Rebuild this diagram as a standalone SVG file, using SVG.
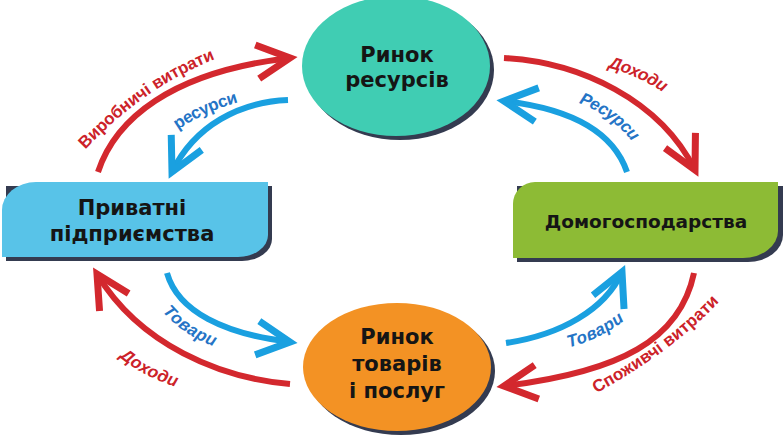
<svg xmlns="http://www.w3.org/2000/svg" xmlns:xlink="http://www.w3.org/1999/xlink" width="784" height="436" viewBox="0 0 784 436">
<style>
.shadow{fill:#343b50}
.ntext{font-family:"DejaVu Sans","Liberation Sans",sans-serif;font-weight:bold;font-size:21px;fill:#151515;text-anchor:middle}
.red{fill:none;stroke:#d3282e;stroke-width:6;stroke-linecap:butt}
.blue{fill:none;stroke:#1aa0e0;stroke-width:6;stroke-linecap:butt}
.lbl{font-family:"Liberation Sans","DejaVu Sans",sans-serif;font-weight:bold;font-style:italic;font-size:17px;dominant-baseline:central}
.up{font-style:normal}
.lred{fill:#cc2229}
.lblue{fill:#2474c6}
</style>
<defs>
<marker id="ahR" markerUnits="userSpaceOnUse" viewBox="-40 -30 50 60" markerWidth="50" markerHeight="60" refX="0" refY="0" orient="auto" overflow="visible">
<path d="M -33,-17 L 0,0 L -33,17" fill="none" stroke="#d3282e" stroke-width="7"/>
</marker>
<marker id="ahB" markerUnits="userSpaceOnUse" viewBox="-40 -30 50 60" markerWidth="50" markerHeight="60" refX="0" refY="0" orient="auto" overflow="visible">
<path d="M -33,-17 L 0,0 L -33,17" fill="none" stroke="#1aa0e0" stroke-width="7"/>
</marker>
<path id="tpA" d="M 66,162 Q 140,76 234,46"/>
<path id="tpB" d="M 170,128 Q 200,106 242,95"/>
<path id="tpC" d="M 602,60 Q 640,68 673,92"/>
<path id="tpD" d="M 576,96 Q 615,108 640,142"/>
<path id="tpE" d="M 165,305 Q 185,330 219,342"/>
<path id="tpF" d="M 118,348 Q 145,372 184,383"/>
<path id="tpG" d="M 562,343 Q 598,335 625,312"/>
<path id="tpH" d="M 584,393 Q 670,348 722,290"/>
</defs>
<rect width="784" height="436" fill="#ffffff"/>

<g id="connectors">
<path class="red" d="M 98,172 C 115,120 170,72 290,58" marker-end="url(#ahR)"/>
<path class="blue" d="M 288,100 C 240,102 195,125 172,172" marker-end="url(#ahB)"/>
<path class="red" d="M 504,58 C 580,62 660,100 695,170" marker-end="url(#ahR)"/>
<path class="blue" d="M 627,172 C 612,128 565,108 504,101" marker-end="url(#ahB)"/>
<path class="blue" d="M 167,273 C 178,312 225,334 290,342" marker-end="url(#ahB)"/>
<path class="red" d="M 290,384 C 220,378 140,345 97,274" marker-end="url(#ahR)"/>
<path class="blue" d="M 506,343 C 560,335 605,310 622,272" marker-end="url(#ahB)"/>
<path class="red" d="M 694,273 C 680,340 620,372 504,386" marker-end="url(#ahR)"/>

<text class="lbl up lred"><textPath xlink:href="#tpA" href="#tpA" startOffset="50%" text-anchor="middle">Виробничі витрати</textPath></text>
<text class="lbl up lblue"><textPath xlink:href="#tpB" href="#tpB" startOffset="50%" text-anchor="middle">ресурси</textPath></text>
<text class="lbl lred"><textPath xlink:href="#tpC" href="#tpC" startOffset="50%" text-anchor="middle">Доходи</textPath></text>
<text class="lbl lblue"><textPath xlink:href="#tpD" href="#tpD" startOffset="50%" text-anchor="middle">Ресурси</textPath></text>
<text class="lbl lblue"><textPath xlink:href="#tpE" href="#tpE" startOffset="50%" text-anchor="middle">Товари</textPath></text>
<text class="lbl lred"><textPath xlink:href="#tpF" href="#tpF" startOffset="50%" text-anchor="middle">Доходи</textPath></text>
<text class="lbl lblue"><textPath xlink:href="#tpG" href="#tpG" startOffset="50%" text-anchor="middle">Товари</textPath></text>
<text class="lbl up lred"><textPath xlink:href="#tpH" href="#tpH" startOffset="50%" text-anchor="middle">Споживчі витрати</textPath></text>
</g>

<g id="node-resource-market">
<ellipse class="shadow" cx="400" cy="70" rx="94" ry="70"/>
<ellipse cx="396" cy="66" rx="94" ry="70" fill="#40cdb3"/>
<text class="ntext" x="397" y="62">Ринок</text>
<text class="ntext" x="397" y="87">ресурсів</text>
</g>

<g id="node-goods-market">
<ellipse class="shadow" cx="401" cy="371" rx="94" ry="64"/>
<ellipse cx="397" cy="367" rx="94" ry="64" fill="#f39224"/>
<text class="ntext" x="397" y="344">Ринок</text>
<text class="ntext" x="397" y="371">товарів</text>
<text class="ntext" x="397" y="398">і послуг</text>
</g>

<g id="node-firms">
<path class="shadow" d="M 6,186 L 6,261 L 242,261 A 30 22 0 0 0 272,239 L 272,186 Z"/>
<path d="M 2,210 A 34 28 0 0 1 36,182 L 268,182 L 268,235 A 30 22 0 0 1 238,257 L 2,257 Z" fill="#58c3e8"/>
<text class="ntext" x="132" y="215">Приватні</text>
<text class="ntext" x="132" y="241">підприємства</text>
</g>

<g id="node-households">
<path class="shadow" d="M 517,186 L 517,262 L 748,262 A 35 27 0 0 0 783,235 L 783,186 Z"/>
<path d="M 513,204 A 22 22 0 0 1 535,182 L 778,182 L 778,231 A 35 27 0 0 1 743,258 L 513,258 Z" fill="#8dbb35"/>
<text class="ntext" x="646" y="228" style="font-size:18.5px">Домогосподарства</text>
</g>
</svg>
